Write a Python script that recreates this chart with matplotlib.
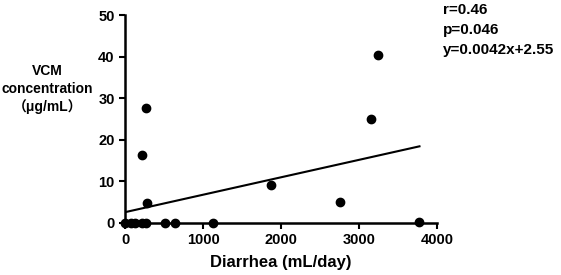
import matplotlib.pyplot as plt

plt.rcParams['font.family'] = ['Liberation Sans', 'Noto Sans CJK SC', 'DejaVu Sans']
plt.rcParams['font.weight'] = 'bold'

diarrhea = [0, 70, 130, 220, 265, 514, 642, 1128, 220, 270, 284, 1876, 2752, 3151, 3238, 3775]
vcm = [0, 0, 0, 0, 0, 0, 0, 0, 16.3, 27.7, 4.7, 9.0, 5.0, 25.0, 40.3, 0.3]
slope = 0.0042
intercept = 2.55
stats_text = ['r=0.46', 'p=0.046', 'y=0.0042x+2.55']
x_ticks = [0, 1000, 2000, 3000, 4000]
y_ticks = [0, 10, 20, 30, 40, 50]

fig = plt.figure(figsize=(5.61, 2.75), dpi=100)
ax = fig.add_axes([0.223, 0.19, 0.556, 0.755])

ax.scatter(diarrhea, vcm, s=36, color='black', zorder=3, clip_on=False)
x0, x1 = min(diarrhea), max(diarrhea)
ax.plot([x0, x1], [slope * x0 + intercept, slope * x1 + intercept], color='black', lw=1.5)

ax.set_xlim(0, 4000)
ax.set_ylim(0, 50)
ax.set_xticks(x_ticks)
ax.set_yticks(y_ticks)
ax.tick_params(direction='out', length=4, width=1.5, labelsize=10.5)
for lab in ax.get_xticklabels() + ax.get_yticklabels():
    lab.set_fontweight('bold')
for s in ['top', 'right']:
    ax.spines[s].set_visible(False)
for s in ['left', 'bottom']:
    ax.spines[s].set_linewidth(1.8)

ax.set_xlabel('Diarrhea (mL/day)', fontsize=12, fontweight='bold', labelpad=6)
fig.text(0.085, 0.675, 'VCM\nconcentration\n（μg/mL）', ha='center', va='center',
         fontsize=10, fontweight='bold', linespacing=1.3)

for i, t in enumerate(stats_text):
    fig.text(0.789, 0.99 - i * 0.073, t, ha='left', va='top', fontsize=11, fontweight='bold')

fig.savefig('out.png', dpi=100)
